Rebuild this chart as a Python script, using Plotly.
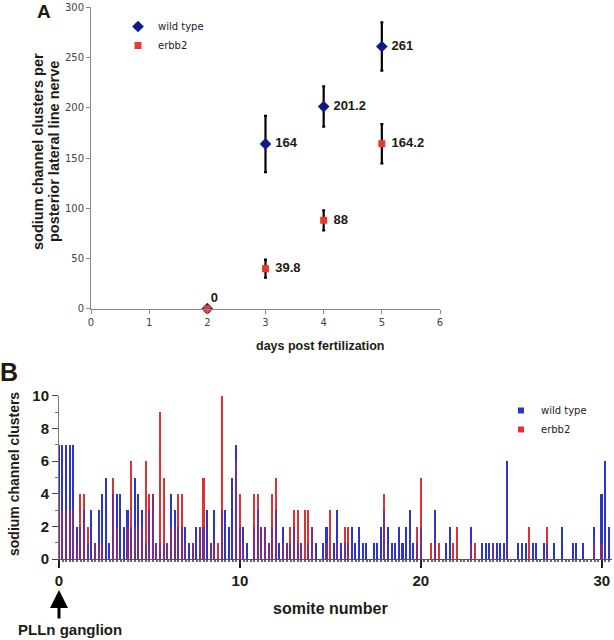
import plotly.graph_objects as go

# ---------------- Panel A data ----------------
days = [2, 3, 4, 5]
wt_mean = [0, 164, 201.2, 261]
wt_err = [0, 28, 20, 24]
erbb2_mean = [0, 39.8, 88, 164.2]
erbb2_err = [0, 9, 10, 19.5]
wt_labels = ["", "164", "201.2", "261"]
erbb2_labels = ["0", "39.8", "88", "164.2"]
erbb2_label_pos = ["top right", "middle right", "middle right", "middle right"]

# ---------------- Panel B data ----------------
bin_width_somite = 0.2  # histogram bins along the nerve
wt_counts = [7, 7, 7, 7, 7, 2, 2, 3, 1, 3, 1, 3, 4, 5, 1, 4, 4, 4, 2, 3,
             2, 5, 4, 3, 1, 3, 4, 1, 1, 1, 1, 4, 3, 2, 2, 2, 1, 1, 2, 2,
             2, 3, 1, 3, 0, 3, 3, 2, 5, 7, 2, 2, 1, 0, 2, 3, 2, 2, 1, 2,
             3, 1, 2, 1, 1, 2, 1, 1, 0, 1, 2, 1, 0, 1, 2, 0, 1, 3, 1, 1,
             1, 2, 1, 2, 1, 1, 0, 1, 1, 2, 3, 2, 1, 1, 2, 1, 2, 3, 1, 1,
             2, 0, 0, 0, 3, 0, 0, 1, 2, 0, 0, 0, 0, 0, 2, 0, 0, 1, 1, 1,
             1, 1, 1, 1, 6, 0, 0, 1, 1, 1, 0, 1, 1, 0, 1, 1, 0, 1, 0, 2,
             0, 0, 1, 1, 0, 1, 0, 0, 2, 0, 4, 6, 2]
erbb2_counts = [4, 3, 3, 3, 3, 1, 4, 4, 2, 0, 1, 1, 1, 0, 0, 5, 2, 0, 0, 2,
                6, 2, 2, 2, 6, 4, 4, 1, 9, 5, 1, 2, 2, 4, 4, 1, 0, 1, 0, 2,
                5, 0, 1, 1, 1, 10, 0, 0, 0, 6, 4, 1, 0, 0, 4, 4, 2, 2, 1, 4,
                5, 0, 1, 1, 2, 3, 3, 1, 3, 3, 2, 0, 0, 0, 1, 3, 0, 1, 0, 2,
                2, 0, 0, 0, 0, 0, 0, 0, 0, 0, 4, 0, 0, 0, 0, 0, 0, 0, 0, 2,
                5, 0, 0, 1, 1, 1, 0, 0, 0, 1, 2, 0, 0, 0, 1, 1, 0, 0, 0, 0,
                1, 0, 0, 0, 1, 0, 0, 0, 0, 0, 2, 0, 0, 0, 0, 2, 0, 0, 0, 0,
                0, 0, 0, 0, 0, 0, 0, 0, 1, 0, 1, 0, 0]
somite_pos = [i * bin_width_somite for i in range(len(wt_counts))]
overlap_counts = [min(a, b) for a, b in zip(wt_counts, erbb2_counts)]

W, H = 614, 640
def px(x):
    return x / W
def py(y):
    return 1 - y / H

TXT = "#1c1c14"
BLUE_A = "#0c1a8e"
RED_A = "#e8392a"
BLUE_B = "#2b36c9"
RED_B = "#dc3232"
PURPLE_B = "#7b2c8a"
LBL_FONT = dict(family="Liberation Sans, Arial", size=13, color=TXT, weight="bold")

fig = go.Figure()

# Panel A
fig.add_trace(go.Scatter(
    x=days, y=wt_mean, mode="markers", name="wild type",
    marker=dict(symbol="diamond", size=9, color=BLUE_A),
    error_y=dict(type="data", array=wt_err, color="black", thickness=2.2, width=1.5),
    cliponaxis=False, xaxis="x", yaxis="y", legend="legend"))
fig.add_trace(go.Scatter(
    x=days, y=erbb2_mean, mode="markers", name="erbb2",
    marker=dict(symbol="square", size=7, color=RED_A),
    error_y=dict(type="data", array=erbb2_err, color="black", thickness=2.2, width=1.5),
    cliponaxis=False, xaxis="x", yaxis="y", legend="legend"))
# value labels (invisible markers give the text its offset)
fig.add_trace(go.Scatter(
    x=days, y=wt_mean, mode="markers+text", text=wt_labels, textposition="middle right",
    marker=dict(size=14, opacity=0), textfont=LBL_FONT,
    showlegend=False, cliponaxis=False, xaxis="x", yaxis="y", hoverinfo="skip"))
fig.add_trace(go.Scatter(
    x=days, y=erbb2_mean, mode="markers+text", text=erbb2_labels, textposition=erbb2_label_pos,
    marker=dict(size=[4, 14, 14, 14], opacity=0), textfont=LBL_FONT,
    showlegend=False, cliponaxis=False, xaxis="x", yaxis="y", hoverinfo="skip"))

# Panel B
fig.add_trace(go.Bar(x=somite_pos, y=wt_counts, width=0.085, marker=dict(color=BLUE_B, line=dict(width=0)),
                     name="wild type", showlegend=False, xaxis="x2", yaxis="y2"))
fig.add_trace(go.Bar(x=somite_pos, y=erbb2_counts, width=0.085, marker=dict(color=RED_B, line=dict(width=0)),
                     name="erbb2", showlegend=False, xaxis="x2", yaxis="y2"))
fig.add_trace(go.Bar(x=somite_pos, y=overlap_counts, width=0.085, marker=dict(color=PURPLE_B, line=dict(width=0)),
                     name="both", showlegend=False, xaxis="x2", yaxis="y2"))
# legend entries for panel B
fig.add_trace(go.Scatter(x=[None], y=[None], mode="markers", name="wild type",
                         marker=dict(symbol="square", size=6, color=BLUE_B),
                         xaxis="x2", yaxis="y2", legend="legend2"))
fig.add_trace(go.Scatter(x=[None], y=[None], mode="markers", name="erbb2",
                         marker=dict(symbol="square", size=6, color=RED_B),
                         xaxis="x2", yaxis="y2", legend="legend2"))

axA = dict(showline=True, linecolor="#8a8a8a", linewidth=1, ticks="outside", ticklen=4,
           tickcolor="#8a8a8a", showgrid=False, zeroline=False,
           tickfont=dict(family="DejaVu Sans", size=10, color="#444"))
axB_font = dict(family="Liberation Sans, Arial", size=15, color=TXT, weight="bold")

fig.update_layout(
    width=W, height=H, margin=dict(l=0, r=0, t=0, b=0, autoexpand=False),
    paper_bgcolor="white", plot_bgcolor="white",
    barmode="overlay", bargap=0,
    xaxis=dict(domain=[px(91), px(440)], range=[0, 6], dtick=1, anchor="y", **axA),
    yaxis=dict(domain=[py(308.7), py(7.3)], range=[0, 300], dtick=50, anchor="x", **axA),
    xaxis2=dict(domain=[px(59), px(611.7)], range=[0, 30.55], tickmode="array", tickvals=[0, 10, 20, 30],
                ticks="outside", ticklen=8, tickwidth=1.5, tickcolor="#222", showline=True,
                linecolor="#555", linewidth=1, showgrid=False, zeroline=False, anchor="y2",
                tickfont=axB_font,
                minor=dict(tickmode="linear", tick0=0, dtick=0.2, ticks="outside", ticklen=2,
                           tickcolor="#666", showgrid=False)),
    yaxis2=dict(domain=[py(559), py(395.7)], range=[0, 10], dtick=2, ticks="outside", ticklen=6,
                tickcolor="#444", showline=True, linecolor="#777", linewidth=1, showgrid=False,
                zeroline=False, anchor="x2", tickfont=axB_font,
                minor=dict(dtick=1, ticks="outside", ticklen=3, tickcolor="#777", showgrid=False)),
    legend=dict(x=px(118), y=py(12), xanchor="left", yanchor="top", bgcolor="rgba(0,0,0,0)",
                font=dict(family="DejaVu Sans", size=10, color="#222"), tracegroupgap=0),
    legend2=dict(x=px(501), y=py(396), xanchor="left", yanchor="top", bgcolor="rgba(0,0,0,0)",
                 font=dict(family="DejaVu Sans", size=10, color="#222"), tracegroupgap=0),
)

def ann(text, x, y, size, angle=0, **kw):
    fig.add_annotation(text=text, x=px(x), y=py(y), xref="paper", yref="paper", showarrow=False,
                       textangle=angle, xanchor="center", yanchor="middle",
                       font=dict(family="Liberation Sans, Arial", size=size, color=TXT), **kw)

ann("<b>A</b>", 44, 11, 19)
ann("<b>B</b>", 9, 372, 25)
ann("<b>sodium channel clusters per</b>", 38, 152, 14.5, angle=-90)
ann("<b>posterior lateral line nerve</b>", 54, 152, 14.5, angle=-90)
ann("<b>days post fertilization</b>", 320, 346, 12.5)
ann("<b>sodium channel clusters</b>", 14, 474, 14, angle=-90)
ann("<b>somite number</b>", 330, 608, 16)
ann("<b>PLLn ganglion</b>", 70, 629, 15)

# arrow pointing at the ganglion position (somite 0)
fig.add_annotation(text="", x=0, xref="x2", y=py(590), yref="paper", showarrow=True,
                   ax=0, ay=30, axref="pixel", ayref="pixel", arrowhead=2, arrowsize=1.2,
                   arrowwidth=3, arrowcolor="black")

fig.write_html("out.html", config={"displayModeBar": False},
               post_script="document.body.style.margin='0px';")
